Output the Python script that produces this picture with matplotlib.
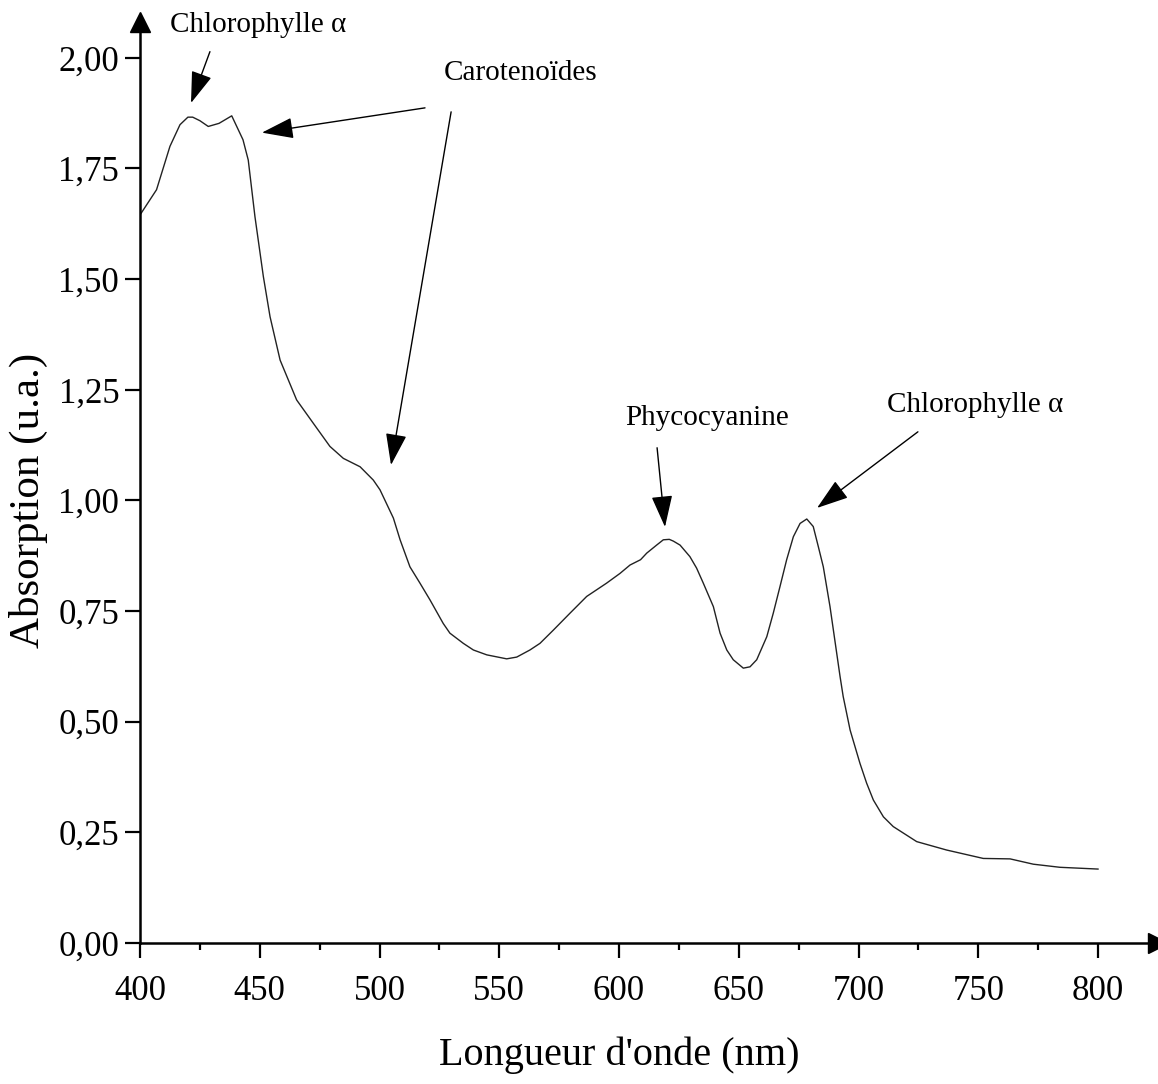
import matplotlib.pyplot as plt
from matplotlib.ticker import FuncFormatter

plt.rcParams['font.family'] = ['Liberation Serif', 'DejaVu Serif']

# Spectrum
wavelength = [400, 406.9, 412.5, 416.7, 420, 422, 425, 428.5, 433, 438.3, 443, 445.2,
              448, 451.5, 454.3, 458.5, 465.4, 472.4, 479.3, 484.9, 491.9, 497.4,
              500.2, 505.8, 508.6, 512.7, 516.9, 521.1, 526.6, 529.4, 535, 539.2,
              544.8, 553.1, 557.3, 562.8, 567, 572.6, 579.5, 586.5, 594.8, 600.4,
              604.6, 609, 611.6, 615.7, 618.5, 621, 622.7, 625.5, 629.6, 632.4,
              635.2, 639.4, 642.2, 645, 647.7, 651.9, 654.7, 657.5, 661.7, 664.4,
              667.2, 670, 672.8, 675.6, 678.4, 681.1, 683.2, 685.3, 688.1, 692.3,
              693.6, 696.5, 700.6, 703.4, 706.2, 710.4, 714.5, 724.3, 736.8, 752.1,
              763.3, 773, 784.1, 800]
absorption = [1.645, 1.702, 1.800, 1.849, 1.866, 1.866, 1.858, 1.845, 1.852, 1.869,
              1.815, 1.769, 1.641, 1.506, 1.415, 1.317, 1.227, 1.174, 1.122, 1.095,
              1.076, 1.046, 1.024, 0.960, 0.911, 0.850, 0.813, 0.775, 0.722, 0.700,
              0.677, 0.662, 0.651, 0.642, 0.646, 0.662, 0.677, 0.707, 0.745, 0.783,
              0.813, 0.835, 0.854, 0.866, 0.881, 0.899, 0.911, 0.912, 0.908, 0.899,
              0.873, 0.847, 0.813, 0.760, 0.700, 0.662, 0.640, 0.621, 0.624, 0.640,
              0.692, 0.745, 0.805, 0.866, 0.918, 0.948, 0.958, 0.941, 0.896, 0.850,
              0.760, 0.602, 0.557, 0.481, 0.406, 0.361, 0.323, 0.285, 0.263, 0.229,
              0.210, 0.191, 0.190, 0.178, 0.171, 0.167]

x_ticks = [400, 450, 500, 550, 600, 650, 700, 750, 800]
x_minor = [425, 475, 525, 575, 625, 675, 725, 775]
y_ticks = [0, 0.25, 0.5, 0.75, 1.0, 1.25, 1.5, 1.75, 2.0]

# label, text position, arrows as (tail, head)
annotations = [
    ("Chlorophylle α", (449.5, 2.075), [((429.2, 2.014), (421.3, 1.898))]),
    ("Carotenoïdes", (559.0, 1.966), [((519.0, 1.887), (450.9, 1.831)),
                                      ((529.9, 1.878), (504.8, 1.080))]),
    ("Phycocyanine", (636.7, 1.186), [((615.9, 1.119), (619.2, 0.940))]),
    ("Chlorophylle α", (748.6, 1.216), [((724.8, 1.155), (682.7, 0.983))]),
]

fig = plt.figure(figsize=(11.58, 10.84), dpi=100)
ax = fig.add_axes([0.1209, 0.1301, 0.879, 0.8496])

ax.plot(wavelength, absorption, color='#222222', lw=1.0)

ax.set_xlim(400, 825)
ax.set_ylim(0, 2.081)
ax.spines['top'].set_visible(False)
ax.spines['right'].set_visible(False)
ax.spines['left'].set_linewidth(1.8)
ax.spines['bottom'].set_linewidth(1.8)

# arrow heads at the axis ends
ax.plot([1], [0], marker='>', ms=14, color='black', transform=ax.transAxes, clip_on=False)
ax.plot([0], [1], marker='^', ms=14, color='black', transform=ax.transAxes, clip_on=False)

ax.set_xticks(x_ticks)
ax.set_xticks(x_minor, minor=True)
ax.set_yticks(y_ticks)
ax.yaxis.set_major_formatter(FuncFormatter(lambda v, p: f"{v:.2f}".replace('.', ',')))
ax.tick_params(axis='both', which='major', direction='out', length=11, width=1.6,
               labelsize=25)
ax.tick_params(axis='x', which='major', pad=12)
ax.tick_params(axis='y', which='major', pad=4)
ax.tick_params(axis='x', which='minor', direction='out', length=5, width=1.6)

ax.set_xlabel("Longueur d'onde (nm)", fontsize=29)
ax.xaxis.set_label_coords(0.4705, -0.102)
ax.set_ylabel("Absorption (u.a.)", fontsize=31)
ax.yaxis.set_label_coords(-0.09, 0.481)

for label, pos, arrows in annotations:
    ax.text(pos[0], pos[1], label, fontsize=21, ha='center', va='center')
    for tail, head in arrows:
        ax.annotate('', xy=head, xytext=tail,
                    arrowprops=dict(arrowstyle='-|>,head_length=0.9,head_width=0.3',
                                    color='black', lw=1.0, mutation_scale=22,
                                    shrinkA=0, shrinkB=0))

fig.savefig('out.png', dpi=100)
